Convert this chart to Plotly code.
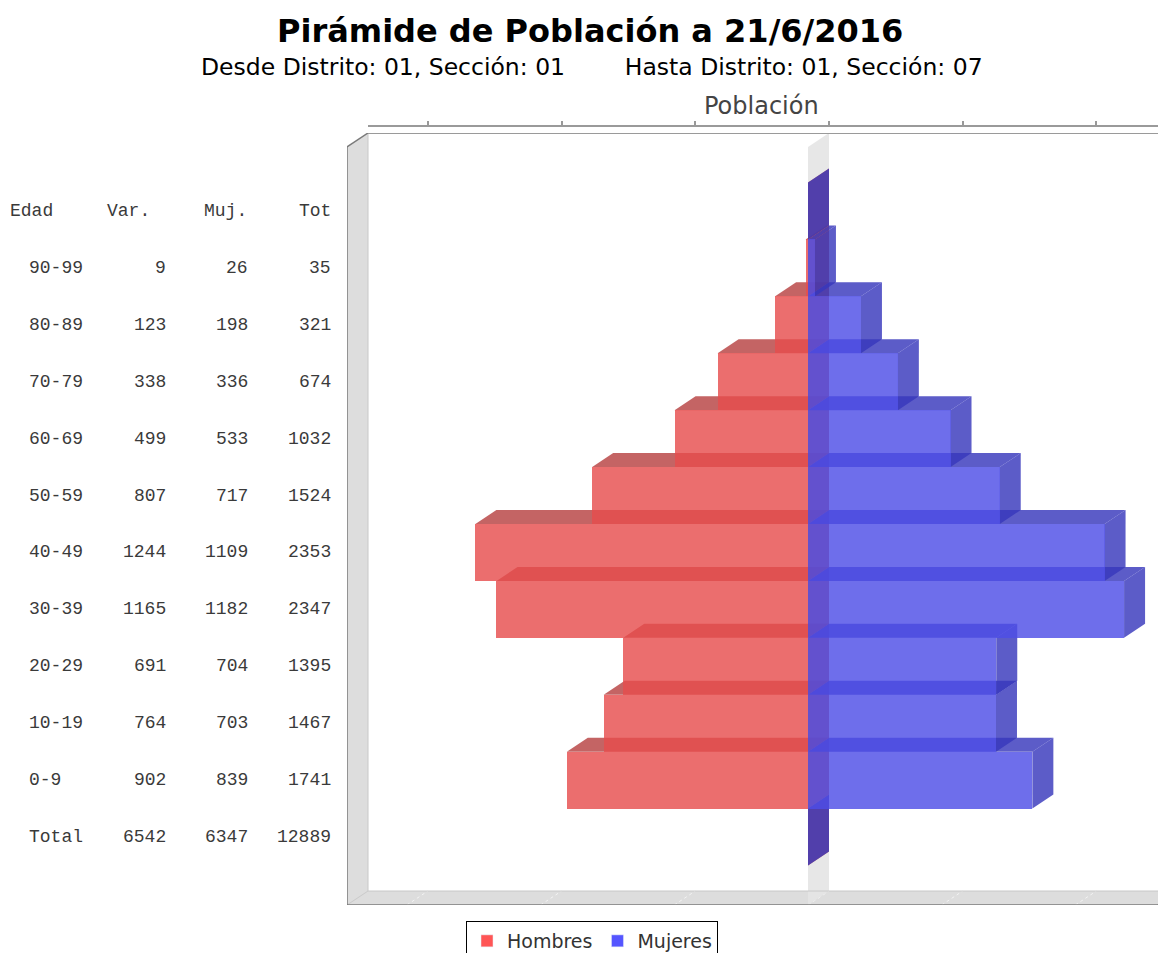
import plotly.graph_objects as go

# ---------------- data ----------------
edades = ["90-99", "80-89", "70-79", "60-69", "50-59", "40-49", "30-39", "20-29", "10-19", "0-9"]
hombres = [9, 123, 338, 499, 807, 1244, 1165, 691, 764, 902]
mujeres = [26, 198, 336, 533, 717, 1109, 1182, 704, 703, 839]
encabezado = ["Edad", "Var.", "Muj.", "Tot"]
etiqueta_total = "Total"
series = ["Hombres", "Mujeres"]
titulo = "Pirámide de Población a 21/6/2016"
subtitulo = "Desde Distrito: 01, Sección: 01        Hasta Distrito: 01, Sección: 07"
eje_titulo = "Población"

# rows of the category axis: header, age groups, total
n_rows = len(edades) + 2
h_rows = [0] + hombres + [0]
m_rows = [0] + mujeres + [0]
idx_rows = list(range(n_rows))
tot_h = sum(hombres)
tot_m = sum(mujeres)

# ---------------- layout geometry (page pixels) ----------------
PAGE_W, PAGE_H = 1166, 953
OFF = 8                      # default body margin of the html page
W, H = PAGE_W - OFF, PAGE_H - OFF
FRONT_L, FRONT_R = 347, 1158
FRONT_T, FRONT_B = 147, 905
BACK_T = 133
ZERO_PX = 808
K = 133.7 / 500.0          # px per person
ROW0_PX, ROW_PX = 211, 56.91
DX_PX, DY_PX = 21, 14


def vx(p):
    return (p - ZERO_PX) / K


def vy(p):
    return (p - ROW0_PX) / ROW_PX


def px(p):
    return (p - OFF) / W


def py(p):
    return 1 - (p - OFF) / H


dxd = DX_PX / K
dyd = DY_PX / ROW_PX
xmin, xmax = vx(FRONT_L), vx(FRONT_R)
ytop, ybot = vy(FRONT_T), vy(FRONT_B)

RED_FRONT = "rgba(230,77,77,0.815)"
RED_FACE = "rgba(183,65,65,0.815)"
BLUE_FRONT = "rgba(77,77,230,0.815)"
BLUE_FACE = "rgba(55,55,188,0.815)"


def poly(pts, fill, layer="below", line=None):
    d = "M " + " L ".join(f"{x},{y}" for x, y in pts) + " Z"
    return dict(type="path", path=d, xref="x", yref="y", fillcolor=fill,
                line=line or dict(width=0), layer=layer)


def seg(x0, y0, x1, y1, color, width=1, dash="solid", layer="below"):
    return dict(type="line", x0=x0, y0=y0, x1=x1, y1=y1, xref="x", yref="y",
                line=dict(color=color, width=width, dash=dash), layer=layer)


shapes = []
# walls
shapes.append(poly([(xmin, ytop), (xmin + dxd, ytop - dyd), (xmin + dxd, ybot - dyd), (xmin, ybot)], "#dddddd"))
shapes.append(poly([(xmin, ybot), (xmin + dxd, ybot - dyd), (xmax + dxd, ybot - dyd), (xmax, ybot)], "#dddddd"))
# floor grid lines
for v in range(-1500, 1500, 500):
    shapes.append(seg(v, ybot, v + dxd, ybot - dyd, "#f4f4f4", 1, "dot"))
# zero plane
shapes.append(poly([(0, ytop), (dxd, ytop - dyd), (dxd, ybot - dyd), (0, ybot)], "rgba(228,228,228,0.9)"))
# edges
shapes.append(seg(xmin + dxd, ytop - dyd, xmin + dxd, ybot - dyd, "#c8c8c8", 1))
shapes.append(seg(xmin + dxd, ybot - dyd, xmax + dxd, ybot - dyd, "#c8c8c8", 1))
shapes.append(seg(xmin, ybot, xmin + dxd, ybot - dyd, "#c8c8c8", 1))
shapes.append(seg(xmin, ytop, xmin, ybot, "#7a7a7a", 1.5))
shapes.append(seg(xmin, ybot, xmax, ybot, "#7a7a7a", 1.5))
shapes.append(seg(xmin, ytop, xmin + dxd, ytop - dyd, "#7a7a7a", 1.5))
shapes.append(seg(xmax, ybot, xmax + dxd, ybot - dyd, "#7a7a7a", 1.5))
shapes.append(seg(xmin + dxd, ytop - dyd, vx(PAGE_W) + 5, ytop - dyd, "#9a9a9a", 2))

# 3D faces of bars (bottom rows first)
for i in reversed(idx_rows):
    h, m = h_rows[i], m_rows[i]
    t, b = i - 0.5, i + 0.5
    if h > 0:
        shapes.append(poly([(-h, t), (-h + dxd, t - dyd), (dxd, t - dyd), (0, t)], RED_FACE))
    shapes.append(poly([(0, t), (dxd, t - dyd), (dxd, b - dyd), (0, b)], RED_FACE))
    if m > 0:
        shapes.append(poly([(0, t), (dxd, t - dyd), (m + dxd, t - dyd), (m, t)], BLUE_FACE))
    shapes.append(poly([(m, t), (m + dxd, t - dyd), (m + dxd, b - dyd), (m, b)], BLUE_FACE))

fig = go.Figure()
fig.add_trace(go.Bar(y=idx_rows, x=[-v for v in h_rows], orientation="h", width=1.0,
                     marker=dict(color=RED_FRONT, line=dict(width=0)), name=series[0],
                     showlegend=False, customdata=h_rows,
                     hovertemplate="%{customdata}<extra>" + series[0] + "</extra>"))
fig.add_trace(go.Bar(y=idx_rows, x=m_rows, orientation="h", width=1.0,
                     marker=dict(color=BLUE_FRONT, line=dict(width=0)), name=series[1],
                     showlegend=False))
# legend entries
fig.add_trace(go.Bar(x=[None], y=[None], orientation="h", name=series[0], marker_color="#ff5555"))
fig.add_trace(go.Bar(x=[None], y=[None], orientation="h", name=series[1], marker_color="#5555ff"))
# carrier for the top value axis
fig.add_trace(go.Scatter(x=[None], y=[None], xaxis="x2", yaxis="y", showlegend=False, hoverinfo="skip"))

# table of category labels
ann = []
mono = dict(family="Liberation Mono, DejaVu Sans Mono, monospace", size=18, color="#3a3a3a")
ann.append(dict(x=px(8), y=0, text=encabezado[0], xanchor="left"))
ann.append(dict(x=px(152), y=0, text=encabezado[1], xanchor="right"))
ann.append(dict(x=px(249), y=0, text=encabezado[2], xanchor="right"))
ann.append(dict(x=px(333), y=0, text=encabezado[3], xanchor="right"))
rows_lbl = edades + [etiqueta_total]
vals_h = hombres + [tot_h]
vals_m = mujeres + [tot_m]
for j, lab in enumerate(rows_lbl):
    i = j + 1
    ann.append(dict(x=px(27), y=i, text=lab, xanchor="left"))
    ann.append(dict(x=px(168), y=i, text=str(vals_h[j]), xanchor="right"))
    ann.append(dict(x=px(250), y=i, text=str(vals_m[j]), xanchor="right"))
    ann.append(dict(x=px(333), y=i, text=str(vals_h[j] + vals_m[j]), xanchor="right"))
for a in ann:
    a.update(xref="paper", yref="y", yanchor="middle", showarrow=False, font=mono)

ann.append(dict(x=px(590), y=py(31), xref="paper", yref="paper", text="<b>" + titulo + "</b>",
                showarrow=False, xanchor="center", yanchor="middle",
                font=dict(family="DejaVu Sans", size=32, color="#000")))
ann.append(dict(x=px(592), y=py(67), xref="paper", yref="paper", text=subtitulo.replace(" ", "&nbsp;"),
                showarrow=False, xanchor="center", yanchor="middle",
                font=dict(family="DejaVu Sans", size=23.5, color="#000")))
ann.append(dict(x=px(761), y=py(106), xref="paper", yref="paper", text=eje_titulo,
                showarrow=False, xanchor="center", yanchor="middle",
                font=dict(family="DejaVu Sans", size=24, color="#444")))

fig.update_layout(
    width=W, height=H,
    margin=dict(l=0, r=0, t=0, b=0, pad=0, autoexpand=False),
    paper_bgcolor="white", plot_bgcolor="rgba(0,0,0,0)",
    barmode="relative", bargap=0,
    shapes=shapes, annotations=ann,
    xaxis=dict(domain=[px(FRONT_L), 1], range=[vx(FRONT_L), vx(PAGE_W)], visible=False, fixedrange=True),
    xaxis2=dict(domain=[px(FRONT_L + DX_PX), 1], anchor="free", position=py(126), side="top",
                range=[vx(FRONT_L), vx(PAGE_W - DX_PX)], tick0=0, dtick=500, showticklabels=False,
                ticks="outside", ticklen=4, tickcolor="#999", tickwidth=1.5,
                showline=True, linecolor="#9a9a9a", linewidth=2, showgrid=False, zeroline=False,
                fixedrange=True),
    yaxis=dict(domain=[py(FRONT_B), py(BACK_T)], range=[vy(FRONT_B), vy(BACK_T)], visible=False,
               fixedrange=True),
    legend=dict(orientation="h", x=px(466), y=py(921), xanchor="left", yanchor="top",
                bgcolor="white", bordercolor="#000", borderwidth=1,
                font=dict(family="DejaVu Sans", size=19, color="#333"), itemwidth=30),
    showlegend=True,
)

fig.write_html("out.html")
